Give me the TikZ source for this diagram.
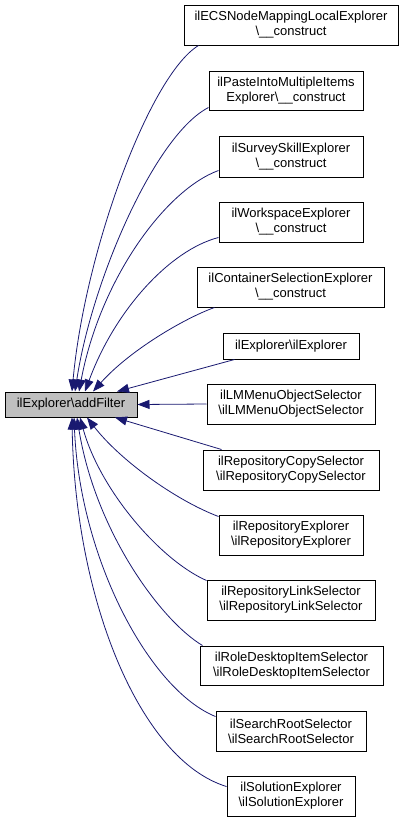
\documentclass[tikz,border=0pt]{standalone}
\usepackage{fontspec}
\setmainfont{Liberation Sans}
\usetikzlibrary{arrows.meta}
\definecolor{edgeblue}{HTML}{191970}
\definecolor{mainfill}{HTML}{BFBFBF}
\tikzset{
  box/.style={draw=black, line width=1pt, fill=white, align=center, inner sep=0pt,
    font=\fontsize{13}{15}\selectfont, minimum height=40pt},
  mainbox/.style={box, fill=mainfill, minimum height=25pt},
  edge/.style={draw=edgeblue, line width=0.8pt, {Triangle[length=12pt,width=9pt]}-}
}
\begin{document}
\begin{tikzpicture}[x=1pt,y=1pt]
\useasboundingbox (0,0) rectangle (404,-823);
\node[mainbox, minimum width=132pt] (main) at (71,-404.5) {ilExplorer\textbackslash addFilter};
\node[box, minimum width=214pt] (n1) at (291,-25) {ilECSNodeMappingLocalExplorer\\\textbackslash\_\_construct};
\node[box, minimum width=154pt, minimum height=39pt] (n2) at (286,-90.5) {ilPasteIntoMultipleItems\\Explorer\textbackslash\_\_construct};
\node[box, minimum width=144pt, minimum height=41pt] (n3) at (291,-156.5) {ilSurveySkillExplorer\\\textbackslash\_\_construct};
\node[box, minimum width=144pt] (n4) at (291,-222) {ilWorkspaceExplorer\\\textbackslash\_\_construct};
\node[box, minimum width=187pt] (n5) at (290.5,-287) {ilContainerSelectionExplorer\\\textbackslash\_\_construct};
\node[box, minimum width=136pt, minimum height=26pt] (n6) at (291,-346) {ilExplorer\textbackslash ilExplorer};
\node[box, minimum width=168pt] (n7) at (291,-404) {ilLMMenuObjectSelector\\\textbackslash ilLMMenuObjectSelector};
\node[box, minimum width=176pt] (n8) at (291,-470) {ilRepositoryCopySelector\\\textbackslash ilRepositoryCopySelector};
\node[box, minimum width=144pt] (n9) at (291,-535) {ilRepositoryExplorer\\\textbackslash ilRepositoryExplorer};
\node[box, minimum width=168pt] (n10) at (291,-600) {ilRepositoryLinkSelector\\\textbackslash ilRepositoryLinkSelector};
\node[box, minimum width=183pt, minimum height=39pt] (n11) at (291.5,-665.5) {ilRoleDesktopItemSelector\\\textbackslash ilRoleDesktopItemSelector};
\node[box, minimum width=150pt] (n12) at (291,-731) {ilSearchRootSelector\\\textbackslash ilSearchRootSelector};
\node[box, minimum width=128pt] (n13) at (291,-796) {ilSolutionExplorer\\\textbackslash ilSolutionExplorer};

\draw[edge] ([xshift=1pt]main.north) .. controls (85,-250) and (150,-75) .. ([xshift=15pt]n1.south west);
\draw[edge] ([xshift=4pt]main.north) .. controls (92,-280) and (155,-135) .. ([yshift=3pt]n2.south west);
\draw[edge] ([xshift=8pt]main.north) .. controls (100,-280) and (165,-190) .. ([yshift=7pt]n3.south west);
\draw[edge] ([xshift=14pt]main.north) .. controls (115,-310) and (170,-250) .. ([yshift=5pt]n4.south west);
\draw[edge] ([xshift=22pt]main.north) .. controls (130,-350) and (185,-318) .. ([xshift=18pt]n5.south west);
\draw[edge] ([xshift=46pt]main.north) -- ([xshift=12pt]n6.south west);
\draw[edge] (main.east) -- (n7.west);
\draw[edge] ([xshift=44pt]main.south) -- ([xshift=19pt]n8.north west);
\draw[edge] ([xshift=16pt]main.south) .. controls (120,-460) and (175,-500) .. ([yshift=-2pt]n9.north west);
\draw[edge] ([xshift=9pt]main.south) .. controls (100,-490) and (160,-560) .. ([yshift=-1pt]n10.north west);
\draw[edge] ([xshift=6pt]main.south) .. controls (95,-530) and (160,-620) .. ([xshift=3pt]n11.north west);
\draw[edge] ([xshift=3pt]main.south) .. controls (80,-560) and (150,-690) .. ([yshift=-6pt]n12.north west);
\draw[edge] ([xshift=1pt]main.south) .. controls (75,-600) and (140,-760) .. ([yshift=-11pt]n13.north west);
\end{tikzpicture}
\end{document}
